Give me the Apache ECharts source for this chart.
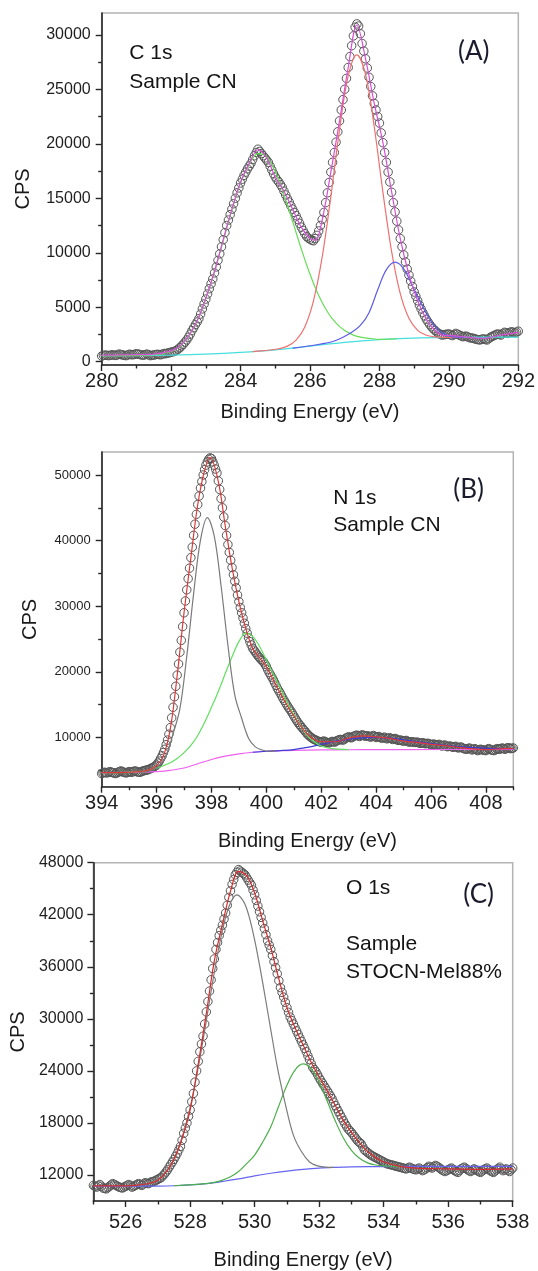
<!DOCTYPE html>
<html>
<head>
<meta charset="utf-8">
<title>XPS C 1s / N 1s / O 1s</title>
<script src="https://cdn.jsdelivr.net/npm/echarts@6/dist/echarts.min.js"></script>
<style>
  html, body { margin: 0; padding: 0; background: #fff; }
  #chart { width: 538px; height: 1271px; }
</style>
</head>
<body>
<div id="chart"></div>
<script>
// ---------- (A) C 1s, sample CN : counts every 0.05 eV from 280 eV ----------
const c1sStart = 280, c1sStep = 0.05;
const c1sCps = [
  520, 580, 610, 590, 560, 600, 640, 610, 580, 620,
  700, 660, 620, 590, 560, 620, 690, 650, 640, 680,
  730, 700, 660, 620, 600, 650, 700, 640, 560, 590,
  620, 650, 680, 660, 640, 700, 760, 740, 800, 820,
  880, 910, 960, 1040, 1150, 1280, 1450, 1600, 1800, 2000,
  2250, 2530, 2850, 3120, 3400, 3650, 3950, 4380, 4850, 5300,
  5750, 6220, 6700, 7150, 7600, 8150, 8700, 9300, 9900, 10550,
  11200, 11850, 12500, 13000, 13500, 14000, 14500, 15000, 15500, 15950,
  16400, 16750, 17100, 17400, 17700, 17950, 18200, 18550, 18900, 19200,
  19500, 19300, 19100, 18900, 18700, 18500, 18300, 17950, 17600, 17250,
  16950, 16700, 16500, 16250, 16000, 15650, 15300, 14950, 14650, 14300,
  14000, 13700, 13400, 13050, 12700, 12350, 12050, 11750, 11500, 11350,
  11250, 11150, 11100, 11300, 11600, 12000, 12500, 13050, 13700, 14600,
  15500, 16450, 17400, 18300, 19200, 20150, 21100, 22100, 23100, 24050,
  25000, 26000, 27000, 28000, 29000, 29900, 30700, 31000, 30800, 30100,
  29200, 28500, 27800, 26950, 26100, 25250, 24400, 23700, 23100, 22500,
  21900, 21000, 20100, 19200, 18300, 17400, 16500, 15550, 14600, 13750,
  12900, 12100, 11300, 10550, 9800, 9150, 8500, 7950, 7400, 6900,
  6400, 6000, 5600, 5200, 4850, 4500, 4200, 3900, 3650, 3400,
  3200, 3020, 2870, 2720, 2600, 2520, 2450, 2480, 2500, 2530,
  2550, 2470, 2400, 2500, 2600, 2520, 2450, 2380, 2300, 2320,
  2350, 2270, 2200, 2180, 2150, 2100, 2050, 2020, 2000, 2060,
  2100, 2040, 2000, 2120, 2250, 2330, 2400, 2480, 2550, 2500,
  2450, 2580, 2700, 2650, 2600, 2680, 2750, 2700, 2650, 2720,
  2800
];
const c1sEnvE = [280, 280.5, 281, 281.5, 282, 282.25, 282.5, 282.75, 283, 283.25, 283.5, 283.75,
  284, 284.25, 284.5, 284.75, 285, 285.25, 285.5, 285.75, 286, 286.15, 286.35, 286.6, 286.85,
  287.1, 287.35, 287.6, 287.85, 288.1, 288.35, 288.6, 288.85, 289.1, 289.35, 289.6, 289.85,
  290.1, 290.5, 291, 291.5, 292];
const c1sEnv = [600, 620, 650, 700, 1000, 1450, 2350, 3750, 5850, 8300, 11200, 14000,
  16500, 18200, 19450, 18700, 16950, 15650, 14000, 12350, 11300, 11150, 13000, 17400, 22100,
  27000, 30900, 27800, 23700, 20100, 15600, 11300, 8000, 5600, 3900, 2870, 2420,
  2400, 2250, 2150, 2450, 2700];
const c1sBgE = [280, 281, 282, 283, 284, 285, 286, 287, 288, 289, 290, 291, 292];
const c1sBg = [550, 565, 600, 690, 850, 1090, 1430, 1780, 2030, 2170, 2230, 2250, 2260];
const c1sGreenE = [280, 281, 281.5, 281.75, 282, 282.25, 282.5, 282.75, 283, 283.25, 283.5, 283.75,
  284, 284.25, 284.5, 284.75, 285, 285.25, 285.5, 285.75, 286, 286.25, 286.5, 286.75,
  287, 287.25, 287.5, 287.75, 288, 288.5];
const c1sGreen = [560, 590, 650, 750, 950, 1400, 2350, 3750, 5800, 8300, 11100, 13900,
  16400, 18100, 19100, 18810, 17430, 15350, 12870, 10340, 8020, 6080, 4590, 3540,
  2860, 2440, 2230, 2130, 2060, 2110];
const c1sRedE = [284.35, 284.6, 284.85, 285.1, 285.35, 285.6, 285.85, 286.1, 286.35, 286.6, 286.85,
  287.1, 287.35, 287.6, 287.85, 288.1, 288.35, 288.6, 288.85, 289.1, 289.35, 289.6, 289.85, 290.1, 290.35];
const c1sRed = [930, 990, 1075, 1190, 1430, 1980, 3190, 5580, 9590, 15150, 21280,
  26220, 28160, 26360, 21560, 15560, 10130, 6250, 3980, 2880, 2430, 2280, 2240, 2230, 2240];
const c1sBlueE = [285.5, 286.2, 286.45, 286.7, 286.95, 287.2, 287.45, 287.7, 287.95, 288.2, 288.45,
  288.7, 288.95, 289.2, 289.45, 289.7, 289.95, 290.2, 290.45];
const c1sBlue = [1250, 1560, 1700, 1900, 2250, 2700, 3330, 4500, 6600, 8450, 9140,
  8530, 6950, 5350, 3900, 2900, 2420, 2250, 2240];
const c1sXTicks = [280, 282, 284, 286, 288, 290, 292];
const c1sXMinor = [281, 283, 285, 287, 289, 291];
const c1sYTicks = [0, 5000, 10000, 15000, 20000, 25000, 30000];
const c1sYMinor = [2500, 7500, 12500, 17500, 22500, 27500];

// ---------- (B) N 1s, sample CN : counts every 0.05 eV from 394 eV ----------
const n1sStart = 394, n1sStep = 0.05;
const n1sCps = [
  4500, 4600, 4700, 4650, 4600, 4700, 4800, 4700, 4650, 4600,
  4500, 4600, 4700, 4800, 4900, 4800, 4700, 4650, 4600, 4700,
  4800, 4750, 4700, 4800, 4900, 4850, 4750, 4700, 4700, 4800,
  4900, 4950, 5000, 5050, 5100, 5200, 5300, 5400, 5500, 5650,
  5800, 6100, 6400, 6800, 7200, 7700, 8200, 8900, 9600, 10500,
  11500, 13000, 14600, 16200, 17800, 19500, 21200, 23000, 24800, 26900,
  29000, 30800, 32500, 34200, 35800, 37400, 39000, 40800, 42500, 44000,
  45500, 46800, 48000, 49000, 50000, 50800, 51500, 52000, 52400, 52600,
  52500, 52000, 51500, 50900, 50300, 49100, 47800, 46400, 45000, 43600,
  42300, 40800, 39400, 38200, 37000, 35900, 34800, 33800, 32800, 31700,
  30700, 29800, 29000, 28200, 27400, 26600, 25900, 25200, 24600, 24100,
  23600, 23300, 23000, 22700, 22400, 22150, 21900, 21700, 21500, 21150,
  20800, 20350, 19900, 19550, 19200, 18800, 18400, 17950, 17500, 17150,
  16800, 16400, 16000, 15650, 15300, 14950, 14600, 14300, 14000, 13650,
  13300, 12950, 12600, 12300, 12000, 11750, 11500, 11250, 11000, 10750,
  10500, 10300, 10100, 9950, 9800, 9700, 9600, 9500, 9400, 9350,
  9300, 9400, 9450, 9350, 9250, 9200, 9200, 9300, 9400, 9350,
  9300, 9450, 9550, 9650, 9700, 9650, 9600, 9750, 9900, 10000,
  10100, 10000, 9950, 10100, 10200, 10300, 10350, 10250, 10150, 10300,
  10400, 10300, 10200, 10250, 10250, 10150, 10050, 10200, 10300, 10150,
  10000, 10100, 10150, 10000, 9900, 9950, 10050, 9900, 9800, 9900,
  9950, 9850, 9700, 9800, 9850, 9700, 9550, 9600, 9600, 9500,
  9450, 9500, 9550, 9400, 9300, 9350, 9350, 9300, 9250, 9250,
  9300, 9200, 9100, 9150, 9200, 9100, 9050, 9100, 9100, 9000,
  8900, 8950, 9000, 8900, 8800, 8900, 8950, 8800, 8700, 8800,
  8850, 8700, 8600, 8650, 8700, 8600, 8500, 8600, 8650, 8500,
  8400, 8500, 8550, 8400, 8300, 8250, 8200, 8300, 8400, 8250,
  8100, 8200, 8300, 8150, 8000, 8100, 8200, 8150, 8100, 8050,
  8000, 8150, 8300, 8200, 8100, 8050, 8000, 8150, 8300, 8250,
  8200, 8300, 8400, 8300, 8200, 8350, 8450, 8400, 8300, 8350,
  8400
];
const n1sEnvE = [394, 394.5, 395, 395.25, 395.5, 395.75, 396, 396.25, 396.5, 396.75,
  397, 397.25, 397.5, 397.75, 397.95, 398.25, 398.5, 398.75, 399, 399.25, 399.5, 399.75,
  400, 400.25, 400.5, 400.75, 401, 401.25, 401.5, 401.75, 402, 402.5, 403, 403.5,
  404, 404.5, 405, 405.5, 406, 406.5, 407, 407.5, 408, 408.5, 409];
const n1sEnv = [4650, 4650, 4700, 4750, 4850, 5100, 5700, 7200, 11300, 19400,
  29000, 37400, 45500, 50700, 52700, 49000, 42300, 35900, 30700, 26600, 23600, 22150,
  20800, 18800, 16800, 14950, 13300, 11750, 10500, 9700, 9350, 9350, 9900, 10250,
  10100, 9850, 9450, 9250, 8950, 8750, 8500, 8250, 8150, 8250, 8350];
const n1sBgE = [394, 395, 395.5, 396, 396.5, 397, 397.5, 398, 398.5, 399, 399.5, 400, 400.5,
  401, 402, 403, 404, 405, 409];
const n1sBg = [4650, 4670, 4700, 4800, 5000, 5350, 6000, 6650, 7150, 7500, 7750, 7900, 7980,
  8030, 8100, 8130, 8150, 8160, 8170];
const n1sGrayE = [395.35, 395.6, 395.85, 396.1, 396.35, 396.6, 396.85, 397.1, 397.35, 397.6,
  397.85, 398.1, 398.35, 398.6, 398.85, 399.1, 399.35, 399.6, 399.85, 400.1, 400.35];
const n1sGray = [4690, 4740, 5080, 5710, 7270, 10550, 14390, 22380, 31920, 40070,
  43500, 40720, 33120, 24050, 16450, 12930, 9900, 8570, 8090, 7900, 7950];
const n1sGreenE = [394, 395, 395.5, 395.75, 396, 396.25, 396.5, 396.75, 397, 397.25, 397.5, 397.75,
  398, 398.25, 398.5, 398.75, 399, 399.25, 399.5, 399.75, 400, 400.25, 400.5, 400.75,
  401, 401.25, 401.5, 401.75, 402, 402.25, 402.5, 403];
const n1sGreen = [4650, 4690, 4850, 5050, 5350, 5700, 6150, 6800, 7700, 8800, 10300, 12300,
  14600, 17000, 19700, 22300, 24600, 25900, 25400, 23900, 21800, 19700, 17600, 15400,
  13500, 11800, 10300, 9300, 8700, 8400, 8250, 8150];
const n1sBlueE = [399.5, 400, 400.5, 401, 401.5, 402, 402.5, 403, 403.5, 404, 404.5, 405,
  405.5, 406, 406.5, 407, 407.5, 408, 408.5, 409];
const n1sBlue = [7750, 7900, 8000, 8150, 8500, 8950, 9400, 9750, 9950, 10000, 9900, 9650,
  9350, 9050, 8800, 8600, 8450, 8350, 8300, 8280];
const n1sXTicks = [394, 396, 398, 400, 402, 404, 406, 408];
const n1sXMinor = [395, 397, 399, 401, 403, 405, 407, 409];
const n1sYTicks = [10000, 20000, 30000, 40000, 50000];
const n1sYMinor = [5000, 15000, 25000, 35000, 45000];

// ---------- (C) O 1s, sample STOCN-Mel88% : counts every 0.05 eV from 525 eV ----------
const o1sStart = 525, o1sStep = 0.05;
const o1sCps = [
  10800, 10700, 10600, 10750, 10900, 10700, 10500, 10450, 10400, 10550,
  10700, 10850, 11000, 10900, 10800, 10700, 10600, 10550, 10500, 10600,
  10700, 10800, 10900, 10750, 10600, 10700, 10800, 10900, 11000, 10900,
  10800, 10950, 11100, 11050, 11000, 11100, 11200, 11250, 11300, 11400,
  11500, 11600, 11700, 11900, 12100, 12350, 12600, 12900, 13200, 13500,
  13800, 14150, 14500, 14900, 15300, 16000, 16800, 17400, 18000, 18750,
  19500, 20450, 21400, 22700, 24000, 25100, 26200, 27100, 28000, 29400,
  30800, 32000, 33200, 34500, 35800, 36900, 38000, 38800, 39600, 40200,
  40800, 41500, 42200, 43100, 44000, 44750, 45500, 46050, 46600, 46900,
  47200, 47050, 46900, 46750, 46600, 46300, 46000, 45700, 45400, 44850,
  44300, 43650, 43000, 42350, 41700, 41050, 40400, 39700, 39000, 38500,
  38000, 37300, 36600, 35900, 35200, 34400, 33600, 33050, 32500, 31900,
  31300, 30750, 30200, 29800, 29400, 29000, 28600, 28200, 27800, 27400,
  27000, 26600, 26200, 25750, 25300, 24850, 24400, 24150, 23900, 23550,
  23200, 22900, 22600, 22300, 22000, 21700, 21400, 21100, 20800, 20400,
  20000, 19650, 19300, 18950, 18600, 18250, 17900, 17600, 17300, 17100,
  16900, 16650, 16400, 16150, 15900, 15750, 15600, 15250, 14900, 14750,
  14600, 14450, 14300, 14200, 14100, 14000, 13900, 13800, 13700, 13600,
  13500, 13400, 13300, 13250, 13200, 13150, 13100, 13050, 13000, 12950,
  12900, 12850, 12800, 12750, 12700, 12800, 12900, 12800, 12700, 12650,
  12600, 12700, 12800, 12650, 12500, 12600, 12700, 12850, 13000, 12900,
  12800, 12950, 13100, 13000, 12900, 12750, 12600, 12500, 12400, 12500,
  12600, 12700, 12800, 12650, 12500, 12400, 12300, 12500, 12700, 12800,
  12900, 12750, 12600, 12500, 12400, 12550, 12700, 12600, 12500, 12400,
  12300, 12450, 12600, 12700, 12800, 12650, 12500, 12400, 12300, 12450,
  12600, 12750, 12900, 12700, 12500, 12600, 12700, 12550, 12400, 12600,
  12800
];
const o1sEnvE = [525, 525.5, 526, 526.5, 526.75, 527, 527.25, 527.5, 527.75, 528, 528.25, 528.5,
  528.75, 529, 529.25, 529.5, 529.75, 530, 530.25, 530.5, 530.75, 531, 531.25, 531.5, 531.75,
  532, 532.25, 532.5, 532.75, 533, 533.25, 533.5, 533.75, 534, 534.5, 535, 536, 537, 538];
const o1sEnv = [10750, 10750, 10750, 10900, 11050, 11400, 12300, 13800, 16200, 19500, 24800, 30600,
  36700, 40900, 44700, 47000, 46500, 44500, 41300, 38200, 34600, 31300, 29000, 27000, 25000,
  23300, 21700, 20000, 18300, 16900, 15700, 14700, 14000, 13500, 13000, 12800, 12700, 12650, 12700];
const o1sBgE = [525, 526, 527, 527.5, 528, 528.5, 529, 529.5, 530, 530.5, 531, 531.5, 532, 532.5,
  533, 534, 535, 538];
const o1sBg = [10700, 10700, 10720, 10760, 10850, 11000, 11250, 11550, 11900, 12200, 12450, 12650,
  12800, 12880, 12930, 12970, 12990, 13000];
const o1sGrayE = [526.45, 526.7, 526.95, 527.2, 527.45, 527.7, 527.95, 528.2, 528.45, 528.7, 528.95,
  529.2, 529.45, 529.7, 529.95, 530.2, 530.45, 530.7, 530.95, 531.2, 531.45, 531.7, 531.95, 532.2, 532.45];
const o1sGray = [10830, 11020, 11410, 12170, 13530, 15750, 19000, 23400, 28650, 34290, 39320,
  42920, 44300, 43220, 39950, 35190, 29830, 24500, 20200, 16600, 14700, 13500, 13050, 12900, 12880];
const o1sGreenE = [527.5, 528.5, 528.75, 529, 529.25, 529.5, 529.75, 530, 530.25, 530.5, 530.75,
  531, 531.25, 531.5, 531.75, 532, 532.25, 532.5, 532.75, 533, 533.25, 533.5, 533.75, 534, 534.25, 534.5];
const o1sGreen = [10760, 11010, 11150, 11400, 11800, 12400, 13300, 14300, 15800, 17550, 19990,
  22340, 24090, 24800, 24270, 22690, 20500, 18230, 16270, 14840, 13920, 13400, 13150, 13040, 13000, 12985];
const o1sXTicks = [526, 528, 530, 532, 534, 536, 538];
const o1sXMinor = [525, 527, 529, 531, 533, 535, 537];
const o1sYTicks = [12000, 18000, 24000, 30000, 36000, 42000, 48000];
const o1sYMinor = [15000, 21000, 27000, 33000, 39000, 45000];

// ---------- helpers ----------
const FONT = '"Liberation Sans", Arial, Helvetica, sans-serif';
const TAG_FONT = 'Lato, "Open Sans", sans-serif';
const AXIS_COLOR = '#262626';

function pairs(energies, values) {
  return energies.map((e, i) => [e, values[i]]);
}
function gridPairs(start, step, values) {
  return values.map((v, i) => [Math.round((start + i * step) * 100) / 100, v]);
}
const plainNumber = v => String(v);

// Layout and styling of each panel
const panels = [
  {
    grid: { left: 101.7, top: 13, width: 418.3, height: 352 },
    x: { min: 280, max: 292, major: c1sXTicks, minor: c1sXMinor, margin: 6, nameGap: 37 },
    y: { min: -300, max: 32000, major: c1sYTicks, minor: c1sYMinor, fontSize: 16, margin: 11, nameGap: 68 },
    points: gridPairs(c1sStart, c1sStep, c1sCps),
    lines: [
      { data: pairs(c1sBgE, c1sBg), color: '#48dede' },
      { data: pairs(c1sGreenE, c1sGreen), color: '#66dd55' },
      { data: pairs(c1sRedE, c1sRed), color: '#f07070' },
      { data: pairs(c1sBlueE, c1sBlue), color: '#5c5ce8' },
      { data: pairs(c1sEnvE, c1sEnv), color: '#d84ed8' }
    ],
    texts: [
      { text: 'C 1s', x: 129.3, y: 53.3 },
      { text: 'Sample CN', x: 129.3, y: 82.3 }
    ],
    tag: { text: '(A)', x: 458, y: 51.7 }
  },
  {
    grid: { left: 101.7, top: 452, width: 411.6, height: 334.7 },
    x: { min: 394, max: 409, major: n1sXTicks, minor: n1sXMinor, margin: 7, nameGap: 45 },
    y: { min: 2500, max: 53500, major: n1sYTicks, minor: n1sYMinor, fontSize: 13, margin: 11, nameGap: 61 },
    points: gridPairs(n1sStart, n1sStep, n1sCps),
    lines: [
      { data: pairs(n1sBgE, n1sBg), color: '#f060f0' },
      { data: pairs(n1sBlueE, n1sBlue), color: '#3c3cd6' },
      { data: pairs(n1sGreenE, n1sGreen), color: '#60e060' },
      { data: pairs(n1sGrayE, n1sGray), color: '#7a7a7a' },
      { data: pairs(n1sEnvE, n1sEnv), color: '#e03838' }
    ],
    texts: [
      { text: 'N 1s', x: 333.3, y: 498.3 },
      { text: 'Sample CN', x: 333.3, y: 525 }
    ],
    tag: { text: '(B)', x: 453.3, y: 489.3 }
  },
  {
    grid: { left: 92.3, top: 862.7, width: 420.4, height: 339 },
    x: { min: 525, max: 538, major: o1sXTicks, minor: o1sXMinor, margin: 11, nameGap: 49 },
    y: { min: 9000, max: 48000, major: o1sYTicks, minor: o1sYMinor, fontSize: 16, margin: 10, nameGap: 64 },
    points: gridPairs(o1sStart, o1sStep, o1sCps),
    lines: [
      { data: pairs(o1sBgE, o1sBg), color: '#6464f0' },
      { data: pairs(o1sGreenE, o1sGreen), color: '#4caf4c' },
      { data: pairs(o1sGrayE, o1sGray), color: '#7c7c7c' },
      { data: pairs(o1sEnvE, o1sEnv), color: '#d82c2c' }
    ],
    texts: [
      { text: 'O 1s', x: 346, y: 888.3 },
      { text: 'Sample', x: 346, y: 944.3 },
      { text: 'STOCN-Mel88%', x: 346, y: 972.3 }
    ],
    tag: { text: '(C)', x: 463.3, y: 895 }
  }
];

const grids = [], xAxes = [], yAxes = [], series = [], graphics = [];
const n = panels.length;

panels.forEach((p, i) => {
  grids.push(Object.assign({ show: true, borderColor: '#b4b4b4', borderWidth: 1.5,
    backgroundColor: 'transparent', containLabel: false }, p.grid));

  // main x axis (labels + major ticks)
  xAxes[i] = {
    type: 'value', gridIndex: i, min: p.x.min, max: p.x.max, position: 'bottom',
    axisLine: { show: true, onZero: false, lineStyle: { color: AXIS_COLOR, width: 1.6 } },
    axisTick: { show: true, customValues: p.x.major, length: 6, lineStyle: { color: AXIS_COLOR, width: 1.4 } },
    axisLabel: { customValues: p.x.major, formatter: plainNumber, fontSize: 20, color: '#1e1e1e',
      fontFamily: FONT, margin: p.x.margin },
    splitLine: { show: false },
    name: 'Binding Energy (eV)', nameLocation: 'middle', nameGap: p.x.nameGap,
    nameTextStyle: { fontSize: 20, color: '#1a1a1a', fontFamily: FONT }
  };
  // minor x ticks
  xAxes[n + i] = {
    type: 'value', gridIndex: i, min: p.x.min, max: p.x.max, position: 'bottom',
    axisLine: { show: false, onZero: false },
    axisTick: { show: true, customValues: p.x.minor, length: 3.5, lineStyle: { color: AXIS_COLOR, width: 1.4 } },
    axisLabel: { show: false }, splitLine: { show: false }
  };
  yAxes[i] = {
    type: 'value', gridIndex: i, min: p.y.min, max: p.y.max, position: 'left',
    axisLine: { show: true, onZero: false, lineStyle: { color: AXIS_COLOR, width: 1.6 } },
    axisTick: { show: true, customValues: p.y.major, length: 6, lineStyle: { color: AXIS_COLOR, width: 1.4 } },
    axisLabel: { customValues: p.y.major, formatter: plainNumber, fontSize: p.y.fontSize, color: '#1e1e1e',
      fontFamily: FONT, margin: p.y.margin },
    splitLine: { show: false },
    name: 'CPS', nameLocation: 'middle', nameRotate: 90, nameGap: p.y.nameGap,
    nameTextStyle: { fontSize: 20, color: '#1a1a1a', fontFamily: FONT }
  };
  yAxes[n + i] = {
    type: 'value', gridIndex: i, min: p.y.min, max: p.y.max, position: 'left',
    axisLine: { show: false, onZero: false },
    axisTick: { show: true, customValues: p.y.minor, length: 3.5, lineStyle: { color: AXIS_COLOR, width: 1.4 } },
    axisLabel: { show: false }, splitLine: { show: false }
  };

  // measured spectrum: hollow circles
  series.push({
    type: 'scatter', xAxisIndex: i, yAxisIndex: i, data: p.points,
    symbol: 'circle', symbolSize: 8.5, z: 2, silent: true,
    itemStyle: { color: 'rgba(255,255,255,0)', borderColor: '#555555', borderWidth: 1, opacity: 1 }
  });
  // fitted components, background and envelope
  p.lines.forEach((l, k) => {
    series.push({
      type: 'line', xAxisIndex: i, yAxisIndex: i, data: l.data,
      showSymbol: false, smooth: 0.35, z: 3 + k, silent: true,
      lineStyle: { color: l.color, width: 1.2 }
    });
  });

  p.texts.forEach(t => graphics.push({
    type: 'text', x: t.x, y: t.y, silent: true,
    style: { text: t.text, fill: '#141414', font: '21px ' + FONT, align: 'left', verticalAlign: 'middle' }
  }));
  graphics.push({
    type: 'text', x: p.tag.x, y: p.tag.y, silent: true,
    style: { text: p.tag.text, fill: '#1b1b2e', font: '26px ' + TAG_FONT, align: 'left', verticalAlign: 'middle' }
  });
});

const chart = echarts.init(document.getElementById('chart'), null, { renderer: 'canvas' });
chart.setOption({
  animation: false,
  backgroundColor: '#ffffff',
  grid: grids,
  xAxis: xAxes,
  yAxis: yAxes,
  series: series,
  graphic: graphics
});
</script>
</body>
</html>
